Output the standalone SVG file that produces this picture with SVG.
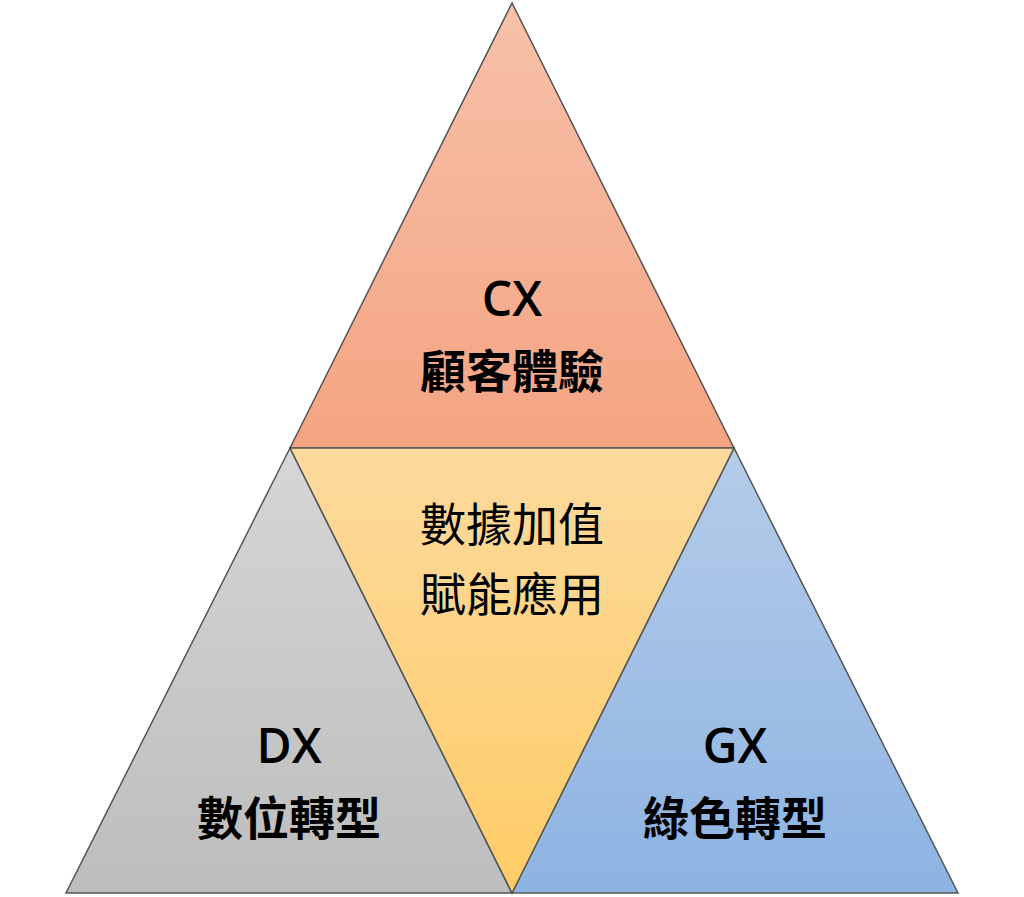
<svg xmlns="http://www.w3.org/2000/svg" width="1024" height="897" viewBox="0 0 1024 897">
<defs>
<linearGradient id="gTop" x1="0" y1="0" x2="0" y2="1"><stop offset="0" stop-color="#F7C1A9"/><stop offset="1" stop-color="#F4A482"/></linearGradient>
<linearGradient id="gMid" x1="0" y1="0" x2="0" y2="1"><stop offset="0" stop-color="#FCDA9E"/><stop offset="1" stop-color="#FFCC66"/></linearGradient>
<linearGradient id="gLeft" x1="0" y1="0" x2="0" y2="1"><stop offset="0" stop-color="#D6D6D6"/><stop offset="1" stop-color="#BDBDBD"/></linearGradient>
<linearGradient id="gRight" x1="0" y1="0" x2="0" y2="1"><stop offset="0" stop-color="#B5CCE9"/><stop offset="1" stop-color="#8DB3E2"/></linearGradient>
</defs>
<style>
.tri{stroke:#555555;stroke-width:1.5;stroke-linejoin:miter}
.t{font-family:"Noto Sans CJK TC","Noto Sans",sans-serif;fill:#000;text-anchor:middle}
.l{font-family:"Open Sans","Noto Sans",sans-serif;font-weight:600;fill:#000;text-anchor:middle}
.b{font-weight:bold}
</style>
<rect width="1024" height="897" fill="#FFFFFF"/>
<g id="cx">
<polygon class="tri" fill="url(#gTop)" points="512,3 290,448 734,448"/>
<text class="l" x="512" y="316" font-size="48">CX</text>
<text class="t b" x="512" y="388" font-size="46">顧客體驗</text>
</g>
<g id="dx">
<polygon class="tri" fill="url(#gLeft)" points="290,448 66,893 512,893"/>
<text class="l" x="289" y="763" font-size="48">DX</text>
<text class="t b" x="289" y="835" font-size="46">數位轉型</text>
</g>
<g id="gx">
<polygon class="tri" fill="url(#gRight)" points="734,448 512,893 958,893"/>
<text class="l" x="735" y="763" font-size="48">GX</text>
<text class="t b" x="735" y="835" font-size="46">綠色轉型</text>
</g>
<g id="center">
<polygon class="tri" fill="url(#gMid)" points="290,448 734,448 512,893"/>
<text class="t" x="512" y="541" font-size="46">數據加值</text>
<text class="t" x="512" y="611" font-size="46">賦能應用</text>
</g>
</svg>
